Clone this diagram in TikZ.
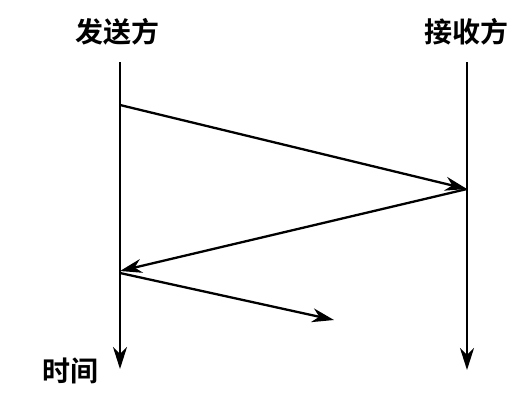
\documentclass[tikz,border=0pt]{standalone}
\usepackage{fontspec}
\newfontfamily\cjk{Noto Sans CJK SC Bold}
\usetikzlibrary{arrows.meta}
\begin{document}
\begin{tikzpicture}[x=1pt,y=-1pt,
  lbl/.style={font=\cjk\fontsize{28}{32}\selectfont, inner sep=0pt},
  msg/.style={line width=2.3pt, -{Stealth[length=22pt,width=14pt,inset=7pt]}}]
\useasboundingbox (0,0) rectangle (532,402);
\node[lbl] (s) at (117,32) {发送方};
\node[lbl] (r) at (466,32) {接收方};
\node[lbl] (t) at (70,371) {时间};
\coordinate (s0) at (120,62);
\coordinate (s1) at (120,369);
\coordinate (r0) at (467,62);
\coordinate (r1) at (467,370);
\coordinate (a) at (120,105);
\coordinate (b) at (467,189);
\coordinate (c) at (120,271);
\coordinate (d) at (120,273);
\coordinate (e) at (334,320);
\draw[msg] (s0) -- (s1);
\draw[msg] (r0) -- (r1);
\draw[msg] (a) -- (b);
\draw[msg] (b) -- (c);
\draw[msg] (d) -- (e);
\end{tikzpicture}
\end{document}
